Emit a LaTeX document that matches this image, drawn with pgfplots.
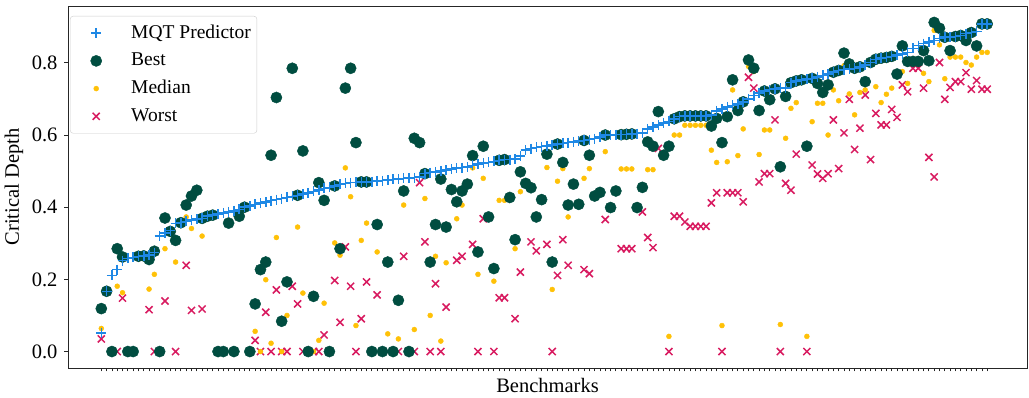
\documentclass[border=0pt]{standalone}
\usepackage{fontspec}
\setmainfont{Liberation Serif}
\usepackage{pgfplots}
\usepackage{pgfplotstable}
\pgfplotsset{compat=1.18}
\definecolor{cmqt}{HTML}{1E88E5}
\definecolor{cbest}{HTML}{004D40}
\definecolor{cmed}{HTML}{FFC107}
\definecolor{cworst}{HTML}{D81B60}

\pgfplotstableread{
idx mqt best median worst
0 0.052 0.119 0.064 0.035
1 0.167 0.167 0.167 0.167
2 0.211 0 0 0
3 0.227 0.285 0.181 0
4 0.252 0.262 0.163 0.148
5 0.258 0 0 0
6 0.261 0 0 0
7 0.264 0.264 0.264 0.264
8 0.265 0.265 0.265 0.265
9 0.267 0.255 0.173 0.116
10 0.274 0.278 0.214 0
11 0.32 0 0 0
12 0.328 0.37 0.285 0.14
13 0.335 0.333 0.333 0.333
14 0.355 0.308 0.248 0
15 0.357 0.357 0.357 0.357
16 0.361 0.406 0.373 0.239
17 0.364 0.431 0.341 0.114
18 0.367 0.447 0.447 0.447
19 0.369 0.369 0.32 0.118
20 0.375 0.375 0.375 0.375
21 0.378 0.378 0.378 0.378
22 0.381 0 0 0
23 0.384 0 0 0
24 0.387 0.356 0.356 0.356
25 0.39 0 0 0
26 0.394 0.375 0.375 0.375
27 0.40 0.40 0.40 0.40
28 0.404 0 0 0
29 0.408 0.132 0.056 0.031
30 0.411 0.227 0 0
31 0.414 0.248 0.199 0.109
32 0.418 0.544 0.023 0
33 0.421 0.704 0.316 0.171
34 0.424 0.084 0 0
35 0.427 0.193 0.1 0
36 0.43 0.785 0.785 0.181
37 0.433 0.433 0.345 0.132
38 0.436 0.556 0.162 0
39 0.44 0 0 0
40 0.444 0.153 0 0
41 0.448 0.468 0.031 0
42 0.452 0.419 0.134 0.046
43 0.455 0 0 0
44 0.459 0.459 0.301 0.197
45 0.463 0.285 0.267 0.081
46 0.466 0.73 0.509 0.29
47 0.468 0.785 0.429 0.181
48 0.469 0.579 0.072 0
49 0.47 0.47 0.308 0.091
50 0.47 0.47 0.356 0.193
51 0.471 0 0 0
52 0.473 0.352 0.276 0.157
53 0.474 0 0 0
54 0.475 0.248 0.049 0
55 0.477 0 0 0
56 0.478 0.142 0.035 0
57 0.48 0.445 0.406 0.264
58 0.481 0 0 0
59 0.482 0.591 0.061 0
60 0.484 0.579 0.572 0.468
61 0.493 0.493 0.424 0.304
62 0.496 0.248 0.1 0
63 0.498 0.352 0.264 0.188
64 0.501 0.478 0.029 0
65 0.503 0.345 0.246 0.123
66 0.506 0.449 0.449 0.449
67 0.508 0.415 0.368 0.253
68 0.51 0.445 0.406 0.264
69 0.511 0.464 0.464 0.464
70 0.516 0.543 0.509 0.297
71 0.52 0.276 0.214 0
72 0.522 0.569 0.48 0.368
73 0.524 0.373 0.373 0.373
74 0.527 0.23 0.195 0
75 0.53 0.53 0.419 0.149
76 0.532 0.532 0.419 0.149
77 0.532 0.427 0.427 0.427
78 0.534 0.31 0.285 0.091
79 0.542 0.498 0.443 0.22
80 0.558 0.466 0.466 0.466
81 0.562 0.454 0.454 0.304
82 0.566 0.373 0.373 0.279
83 0.568 0.421 0.421 0.421
84 0.57 0.547 0.51 0.297
85 0.572 0.248 0.172 0
86 0.575 0.575 0.472 0.211
87 0.577 0.524 0.507 0.31
88 0.579 0.406 0.373 0.239
89 0.581 0.464 0.464 0.464
90 0.583 0.408 0.408 0.408
91 0.585 0.585 0.48 0.227
92 0.587 0.544 0.507 0.216
93 0.59 0.431 0.431 0.431
94 0.594 0.441 0.441 0.441
95 0.6 0.6 0.554 0.366
96 0.6 0.399 0.399 0.399
97 0.601 0.445 0.445 0.445
98 0.601 0.601 0.506 0.285
99 0.602 0.602 0.506 0.285
100 0.603 0.603 0.506 0.285
101 0.604 0.399 0.399 0.399
102 0.606 0.455 0.455 0.387
103 0.617 0.581 0.504 0.316
104 0.622 0.569 0.504 0.288
105 0.628 0.665 0.665 0.563
106 0.633 0.544 0.544 0.544
107 0.638 0.569 0.042 0
108 0.645 0.645 0.6 0.375
109 0.651 0.651 0.6 0.375
110 0.653 0.653 0.627 0.359
111 0.653 0.653 0.627 0.347
112 0.653 0.653 0.627 0.347
113 0.653 0.653 0.627 0.347
114 0.653 0.653 0.627 0.347
115 0.655 0.625 0.558 0.412
116 0.667 0.646 0.524 0.44
117 0.672 0.579 0.072 0
118 0.678 0.651 0.526 0.44
119 0.682 0.753 0.725 0.44
120 0.686 0.668 0.543 0.44
121 0.692 0.692 0.617 0.415
122 0.7 0.808 0.79 0.76
123 0.709 0.785 0.776 0.73
124 0.716 0.668 0.546 0.47
125 0.722 0.722 0.614 0.493
126 0.726 0.698 0.614 0.493
127 0.728 0.728 0.728 0.642
128 0.73 0.512 0.075 0
129 0.73 0.707 0.591 0.466
130 0.745 0.745 0.674 0.447
131 0.75 0.75 0.69 0.547
132 0.753 0.753 0.753 0.753
133 0.755 0.569 0.042 0
134 0.757 0.757 0.637 0.517
135 0.761 0.743 0.688 0.492
136 0.765 0.718 0.688 0.48
137 0.769 0.739 0.6 0.493
138 0.774 0.774 0.725 0.642
139 0.779 0.779 0.695 0.507
140 0.781 0.827 0.792 0.606
141 0.783 0.797 0.714 0.699
142 0.785 0.785 0.656 0.56
143 0.789 0.789 0.718 0.619
144 0.794 0.748 0.725 0.711
145 0.801 0.801 0.801 0.532
146 0.81 0.81 0.734 0.66
147 0.813 0.813 0.69 0.628
148 0.815 0.815 0.713 0.628
149 0.818 0.818 0.73 0.671
150 0.822 0.769 0.769 0.649
151 0.825 0.847 0.776 0.739
152 0.829 0.804 0.743 0.72
153 0.84 0.804 0.804 0.785
154 0.848 0.804 0.804 0.785
155 0.853 0.834 0.771 0.73
156 0.858 0.806 0.748 0.538
157 0.862 0.912 0.89 0.484
158 0.868 0.896 0.85 0.801
159 0.871 0.871 0.756 0.699
160 0.872 0.834 0.816 0.732
161 0.873 0.873 0.816 0.748
162 0.876 0.876 0.816 0.748
163 0.881 0.862 0.801 0.773
164 0.884 0.884 0.794 0.727
165 0.887 0.847 0.816 0.751
166 0.908 0.908 0.829 0.727
167 0.908 0.908 0.829 0.727
}\datatable

\begin{document}
\fontsize{20.5}{24}\selectfont
\begin{tikzpicture}
\begin{axis}[
  scale only axis, width=959pt, height=362pt,
  xmin=-6.28, xmax=174.5, ymin=-0.0456, ymax=0.9576,
  axis line style={black!85, line width=0.8pt},
  tick align=outside, tick pos=left,
  major tick length=3.5pt,
  tick style={black!85, line width=0.8pt},
  xtick={0,...,167}, xticklabel=\empty,
  ytick={0,0.2,0.4,0.6,0.8},
  yticklabel style={/pgf/number format/.cd, fixed, fixed zerofill, precision=1, assume math mode=true},
  xlabel={Benchmarks}, ylabel={Critical Depth},
  xlabel style={at={(axis description cs:0.5,-0.049)}, anchor=center},
  ylabel style={at={(axis description cs:-0.0563,0.5)}, anchor=center},
  reverse legend,
  legend cell align=left,
  legend image code/.code={\path[draw=none, fill=none] (0pt,-5pt) rectangle (55pt,5pt); \draw[#1] plot coordinates {(22pt,0pt)};},
  legend style={at={(0.0021,0.9724)}, anchor=north west,
    draw=black!20, rounded corners=3pt, fill=white,
    font=\fontsize{19.5}{23}\selectfont,
    inner xsep=4pt, inner ysep=6pt, row sep=5.7pt,
    nodes={inner sep=2pt, text height=14pt, text depth=4pt}},
]
\addplot[only marks, mark=x, mark size=5pt, color=cworst, line width=1.5pt] table[x=idx, y=worst] {\datatable};
\addlegendentry{Worst}
\addplot[only marks, mark=*, mark size=2.5pt, color=cmed, mark options={draw=cmed, fill=cmed}] table[x=idx, y=median] {\datatable};
\addlegendentry{Median}
\addplot[only marks, mark=*, mark size=5.6pt, color=cbest, mark options={draw=cbest, fill=cbest}] table[x=idx, y=best] {\datatable};
\addlegendentry{Best}
\addplot[only marks, mark=+, mark size=5pt, color=cmqt, line width=1.5pt] table[x=idx, y=mqt] {\datatable};
\addlegendentry{MQT Predictor}
\coordinate (sw) at (rel axis cs:0,0);
\coordinate (ne) at (rel axis cs:1,1);
\end{axis}
\pgfresetboundingbox
\path[use as bounding box] ([shift={(-68pt,-29.7pt)}]sw) rectangle ([shift={(2pt,6pt)}]ne);
\end{tikzpicture}
\end{document}
